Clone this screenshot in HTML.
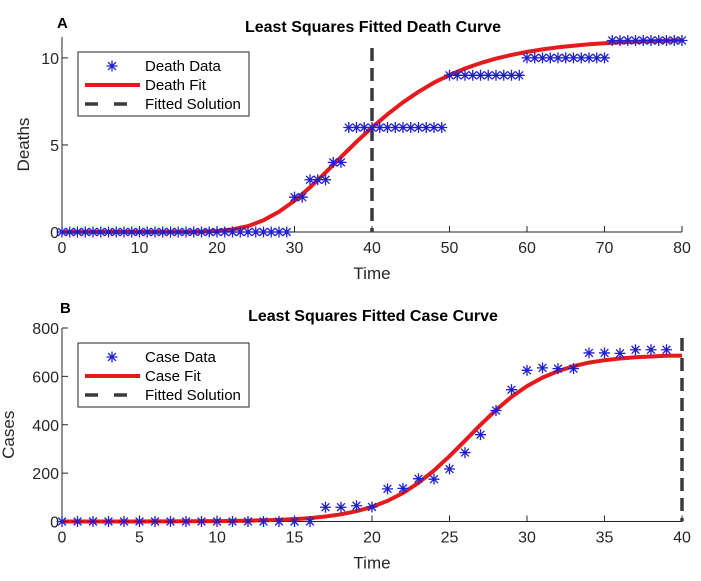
<!DOCTYPE html>
<html><head><meta charset="utf-8"><style>
html,body{margin:0;padding:0;background:#fff;}
svg{display:block;font-family:"Liberation Sans",Arial,sans-serif;}
</style></head><body>
<svg id="chart" width="701" height="581" viewBox="0 0 701 581" xmlns="http://www.w3.org/2000/svg">
<text x="57" y="28" font-size="15" font-weight="bold" fill="#000">A</text>
<text x="373" y="32" font-size="16" font-weight="bold" text-anchor="middle" fill="#000">Least Squares Fitted Death Curve</text>
<text x="60" y="313" font-size="15" font-weight="bold" fill="#000">B</text>
<text x="373" y="321" font-size="16" font-weight="bold" text-anchor="middle" fill="#000">Least Squares Fitted Case Curve</text>
<g id="pA"></g>
<g id="pB"></g>
</svg>
<script>
// Panel A data
const deathTimes = [0,1,2,3,4,5,6,7,8,9,10,11,12,13,14,15,16,17,18,19,20,21,22,23,24,25,26,27,28,29,30,31,32,33,34,35,36,37,38,39,40,41,42,43,44,45,46,47,48,49,50,51,52,53,54,55,56,57,58,59,60,61,62,63,64,65,66,67,68,69,70,71,72,73,74,75,76,77,78,79,80];
const deathValues = [0,0,0,0,0,0,0,0,0,0,0,0,0,0,0,0,0,0,0,0,0,0,0,0,0,0,0,0,0,0,2,2,3,3,3,4,4,6,6,6,6,6,6,6,6,6,6,6,6,6,9,9,9,9,9,9,9,9,9,9,10,10,10,10,10,10,10,10,10,10,10,11,11,11,11,11,11,11,11,11,11];
const deathFitT = [0,4,8,12,16,18,20,22,24,26,28,30,32,34,36,38,40,42,44,46,48,50,52,54,56,58,60,62,64,66,68,70,72,74,76,78,80];
const deathFitV = [0,0,0,0,0.002,0.014,0.05,0.15,0.34,0.67,1.16,1.8,2.56,3.41,4.3,5.18,6.0,6.76,7.45,8.05,8.58,9.01,9.39,9.7,9.96,10.17,10.35,10.49,10.61,10.7,10.78,10.84,10.89,10.93,10.96,10.99,11.01];
const deathXTicks = [0,10,20,30,40,50,60,70,80];
const deathYTicks = [0,5,10];
const deathFitted = 40;
// Panel B data
const caseTimes = [0,1,2,3,4,5,6,7,8,9,10,11,12,13,14,15,16,17,18,19,20,21,22,23,24,25,26,27,28,29,30,31,32,33,34,35,36,37,38,39];
const caseValues = [0,0,0,0,0,0,0,0,0,0,0,0,0,0,0,0,0,59,59,65,60,135,137,177,175,217,285,359,459,545,625,635,632,632,697,697,695,710,710,710];
const caseFitT = [0,2,4,6,8,10,12,14,15,16,17,18,19,20,21,22,23,24,25,26,27,28,29,30,31,32,33,34,35,36,37,38,39,40];
const caseFitV = [0.03,0.07,0.15,0.33,0.72,1.5,3.2,6.8,9.8,14,20.6,29.7,42.6,60.5,85,118,160,211,270,334,400,461,515,560,595,622,642,657,667,674,679,682,685,686];
const caseXTicks = [0,5,10,15,20,25,30,35,40];
const caseYTicks = [0,200,400,600,800];
const caseFitted = 40;

const NS="http://www.w3.org/2000/svg";
function mk(parent,tag,attrs){const e=document.createElementNS(NS,tag);for(const k in attrs)e.setAttribute(k,attrs[k]);parent.appendChild(e);return e;}
function starPath(x,y,r){const d=r*0.707;return `M${x-r},${y}H${x+r}M${x},${y-r}V${y+r}M${x-d},${y-d}L${x+d},${y+d}M${x-d},${y+d}L${x+d},${y-d}`;}

function panel(g,o){
  const sx=v=>o.x0+(v-o.xmin)/(o.xmax-o.xmin)*(o.x1-o.x0);
  const sy=v=>o.y0-(v-o.ymin)/(o.ymax-o.ymin)*(o.y0-o.y1);
  let ax=mk(g,'path',{d:`M${o.x0},${o.y1}V${o.y0}H${o.x1}`,stroke:'#262626',fill:'none','stroke-width':1});
  
  
  o.xt.forEach(t=>{
    const x=sx(t);
    const tk=mk(g,'line',{x1:x,x2:x,y1:o.y0,y2:o.y0-6,stroke:'#262626'});
    
    
    const tl=mk(g,'text',{x:x,y:o.y0+21,'font-size':16,'text-anchor':'middle',fill:'#262626'});
    tl.textContent=t;
    
    
  });
  o.yt.forEach(t=>{
    const y=sy(t);
    const tk=mk(g,'line',{x1:o.x0,x2:o.x0+6,y1:y,y2:y,stroke:'#262626'});
    
    
    const tl=mk(g,'text',{x:o.x0-3,y:y+6,'font-size':16,'text-anchor':'end',fill:'#262626'});
    tl.textContent=t;
    
    
  });
  const xl=mk(g,'text',{x:(o.x0+o.x1)/2,y:o.y0+47,'font-size':17,'text-anchor':'middle',fill:'#262626'});
  xl.textContent='Time';
  
  
  const yl=mk(g,'text',{x:0,y:0,'font-size':17,'text-anchor':'middle',fill:'#262626',transform:`translate(${o.ylx},${(o.y0+o.y1)/2+10}) rotate(-90)`});
  yl.textContent=o.ylabel;
  
  
  const dl=mk(g,'line',{x1:sx(o.fitted),x2:sx(o.fitted),y1:o.dashTop,y2:o.y0,stroke:'#3a3a3a','stroke-width':3.5,'stroke-dasharray':'13,7'});
  
  
  const d=o.ft.map((t,i)=>(i?'L':'M')+sx(t).toFixed(1)+','+sy(o.fv[i]).toFixed(1)).join('');
  const fp=mk(g,'path',{d:d,stroke:'#e41a1c','stroke-width':4,fill:'none','stroke-linejoin':'round'});
  
  
  o.dt.forEach((t,i)=>{
    const s=mk(g,'path',{d:starPath(sx(t),sy(o.dv[i]),5.5),stroke:'#1f1fd0','stroke-width':1.3,fill:'none'});
    
    
  });
  const lg=mk(g,'g',{});
  
  
  mk(lg,'rect',{x:o.lx,y:o.ly,width:171,height:64,fill:'#fff',stroke:'#262626','stroke-width':1});
  const st=mk(lg,'path',{d:starPath(o.lx+34,o.ly+14,5.5),stroke:'#1f1fd0','stroke-width':1.3,fill:'none'});
  
  
  mk(lg,'line',{x1:o.lx+7,x2:o.lx+62,y1:o.ly+33,y2:o.ly+33,stroke:'#e41a1c','stroke-width':4});
  mk(lg,'line',{x1:o.lx+7,x2:o.lx+62,y1:o.ly+52,y2:o.ly+52,stroke:'#3a3a3a','stroke-width':3.5,'stroke-dasharray':'13,16'});
  o.names.forEach((n,i)=>{
    const t=mk(lg,'text',{x:o.lx+67,y:o.ly+19+i*19,'font-size':15,fill:'#000'});
    t.textContent=n;
    
    
  });
}
panel(document.getElementById('pA'),{x0:62,x1:682,y0:232,y1:37,xmin:0,xmax:80,ymin:0,ymax:11.2,
  xt:deathXTicks,yt:deathYTicks,ylabel:'Deaths',ylx:29,fitted:deathFitted,dashTop:48,
  ft:deathFitT,fv:deathFitV,dt:deathTimes,dv:deathValues,lx:78,ly:52,
  names:['Death Data','Death Fit','Fitted Solution']});
panel(document.getElementById('pB'),{x0:62,x1:682,y0:521.5,y1:328,xmin:0,xmax:40,ymin:0,ymax:800,
  xt:caseXTicks,yt:caseYTicks,ylabel:'Cases',ylx:14,fitted:caseFitted,dashTop:338,
  ft:caseFitT,fv:caseFitV,dt:caseTimes,dv:caseValues,lx:78,ly:343,
  names:['Case Data','Case Fit','Fitted Solution']});
</script>
</body></html>
